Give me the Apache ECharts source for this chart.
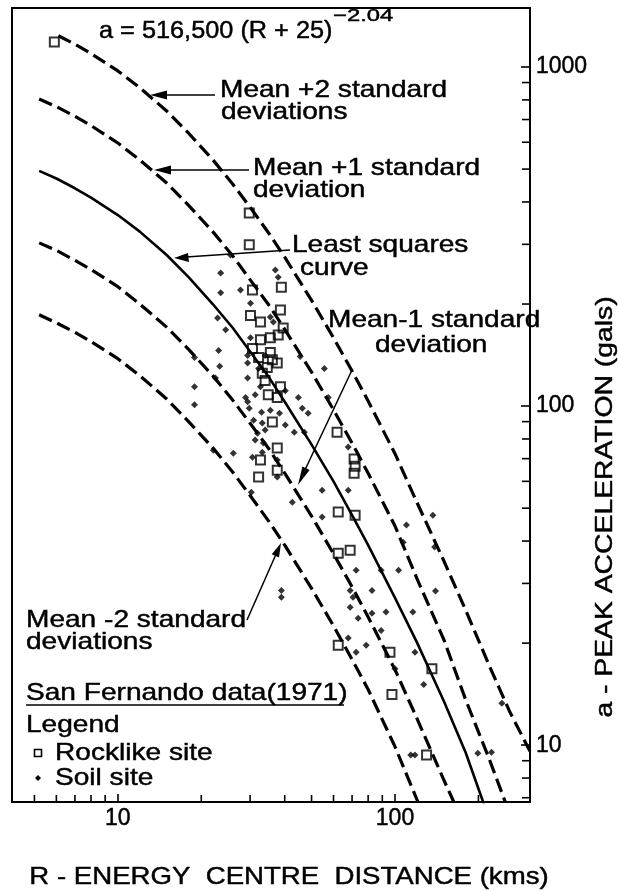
<!DOCTYPE html>
<html><head><meta charset="utf-8">
<script src="https://cdn.jsdelivr.net/npm/echarts@6/dist/echarts.min.js"></script>
<style>html,body{margin:0;padding:0;background:#fff}#c{width:619px;height:891px}</style>
</head><body><div id="c"></div>
<script>
// ---- axis ranges / ticks ----
const xRange = [4.15, 307];
const yRange = [6.8, 1493];
const xMinorTicks = [5, 6, 7, 8, 9, 20, 30, 40, 50, 60, 70, 80, 90, 200];
const yMinorTicks = [7, 8, 9, 20, 30, 40, 50, 60, 70, 80, 90, 200, 300, 400, 500, 600, 700, 800, 900];

// ---- curves: [R (km), a (gals)] ----
const plus2Curve = [[6.1,1237],[7,1168],[8,1096],[10,974],[12,869],[15,742],[18,638],[22,533],[26,451],[30,386],[35,324],[40,275],[50,205],[60,159],[70,127],[80,103.5],[100,72.4],[120,52],[150,35],[180,25],[220,17],[260,12.5],[307,9.6]];
const plus1Curve = [[5.2,805],[6,764],[7,716],[8,672],[10,597],[12,532],[15,455],[18,391],[22,327],[26,277],[30,236],[35,199],[40,168.5],[50,126],[60,97.5],[70,77.8],[80,63.4],[100,44.3],[120,31],[150,20.5],[180,13.6],[220,9.0],[250,6.8]];
const meanCurve  = [[5.2,494],[6,469],[7,439],[8,412],[10,366],[12,327],[15,279],[18,240],[22,200],[26,170],[30,145],[35,122],[40,103],[50,77],[60,60],[70,47.7],[80,38.9],[100,27.2],[120,20.1],[150,13.5],[180,9.5],[208,6.8],[220,6.0]];
const minus1Curve = [[5.2,303],[6,288],[7,269],[8,253],[10,225],[12,200],[15,171],[18,147],[22,123],[26,104],[30,89],[35,75],[40,63.4],[50,47.4],[60,36.7],[70,29.3],[80,23.9],[100,16.7],[120,12.0],[150,7.9],[163,6.8]];
const minus2Curve = [[5.2,186],[6,176],[7,165],[8,155],[10,138],[12,123],[15,105],[18,90],[22,75.4],[26,63.8],[30,54.5],[35,45.8],[40,38.9],[50,29.0],[60,22.5],[70,17.9],[80,14.6],[100,9.9],[121,6.8]];

// ---- observations ----
const rockSites = [[5.9,1185],[29.8,371],[29.8,299],[30.6,220],[38.9,224],[30.1,185],[32.7,177],[38.6,192],[39.5,170],[37.9,162],[35.5,159],[32.7,157],[30.6,148],[35.5,144],[32.2,139],[36.1,137],[37.6,134],[34.6,130],[33.2,125],[34.0,119],[38.6,114],[34.9,108],[37.6,106],[36.1,89.8],[37.6,75.2],[32.7,69.3],[32.2,61.8],[37.6,64.7],[62.4,48.7],[71.8,47.7],[62.4,36.8],[68.9,37.6],[62.4,19.7],[95.9,18.8],[135.9,16.8],[97.5,14.1],[130,9.35],[61.8,83.8],[71.2,69.8],[71.8,66.5],[71.2,63.4]];
const soilSites = [[25.5,279],[23.5,247],[37.0,252],[37.9,240],[23.5,216],[27.7,220],[30.1,201],[22.9,182],[35.5,183],[36.4,177],[24.5,168],[30.1,159],[23.1,146],[29.4,141],[18.9,139],[23.3,131],[29.4,134],[22.5,121],[29.4,121],[18.9,114],[18.9,101],[28.9,106],[29.4,103],[29.8,98.6],[32.7,114],[33.0,95.9],[30.9,90.9],[33.2,89.1],[31.9,83.2],[33.5,77.8],[30.6,70.7],[37.6,69.3],[40.2,87.9],[44.8,106],[46.3,98.6],[48.6,95.3],[43.3,83.8],[47.1,83.8],[40.2,111],[38.3,95.3],[57.4,106],[45.5,140],[55.6,129],[67.8,75.7],[67.8,56.5],[54.6,56.5],[42.6,52.1],[54.6,47.1],[137,47.7],[110,44.6],[107,39.7],[139,38.4],[30.3,55.7],[37.6,61.8],[22.1,74.1],[26.1,72.6],[38.9,28.6],[38.9,27.3],[72.4,32.8],[89.1,32.8],[103,32.8],[68.9,28.6],[70.6,27.3],[82.6,28.6],[68.9,25.5],[82.6,24.5],[92.8,24.7],[116,24.7],[73.6,23.7],[89.1,21.8],[67.8,20.7],[72.4,18.8],[78.7,19.7],[118,18.8],[100,16.8],[127,15.1],[114,9.35],[118,9.35],[199,9.47],[223,9.53],[140,28.5],[243,13.3],[32.2,129],[34.0,141],[31.3,108],[35.5,97.3],[34.0,85.0],[31.3,79.4],[33.2,73.1]];

const FONT = '"Liberation Sans", Arial, sans-serif';
const SX = 1.17;

function curve(name, data, dashed, width) {
  return {
    name, type: 'line', data, showSymbol: false, smooth: false,
    silent: true, z: 2,
    lineStyle: { color: '#000', width: width, type: dashed ? [14, 6] : 'solid', cap: 'butt', join: 'round' }
  };
}
function tickSeries(vals, horizontalAxis) {
  return {
    type: 'custom', silent: true, clip: false, z: 5,
    data: vals.map(v => [v]),
    renderItem: (p, api) => {
      const v = api.value(0);
      if (horizontalAxis) {
        const pt = api.coord([v, yRange[0]]);
        return { type: 'line', shape: { x1: pt[0], y1: pt[1], x2: pt[0], y2: pt[1] - 7 }, style: { stroke: '#000', lineWidth: 1.6 } };
      }
      const pt = api.coord([xRange[1], v]);
      return { type: 'line', shape: { x1: pt[0], y1: pt[1], x2: pt[0] - 8, y2: pt[1] }, style: { stroke: '#000', lineWidth: 1.6 } };
    }
  };
}
function tstyle(text, size, align) {
  return { text, font: size + 'px ' + FONT, fill: '#000', stroke: '#000', lineWidth: 0.45,
    textAlign: align || 'left', textVerticalAlign: 'middle', verticalAlign: 'middle' };
}
function txt(text, x, y, size, extra) {
  return Object.assign({ type: 'text', x, y, scaleX: SX, z: 20, style: tstyle(text, size) }, extra || {});
}
function line(x1, y1, x2, y2, w) {
  return { type: 'line', z: 20, shape: { x1, y1, x2, y2 }, style: { stroke: '#000', lineWidth: w || 1.5 } };
}
function arrow(pts) {
  return { type: 'polygon', z: 20, shape: { points: pts }, style: { fill: '#000' } };
}
const powLabel = v => {
  const l = Math.log10(v);
  return Math.abs(l - Math.round(l)) < 1e-6 ? String(Math.round(v)) : '';
};

const chart = echarts.init(document.getElementById('c'));
chart.setOption({
  animation: false,
  backgroundColor: '#fff',
  grid: { left: 12, right: 89, top: 8, bottom: 89, show: true, borderColor: '#000', borderWidth: 2, backgroundColor: 'transparent' },
  xAxis: {
    type: 'log', logBase: 10, min: xRange[0], max: xRange[1],
    axisLine: { show: true, lineStyle: { color: '#000', width: 2 } },
    axisTick: { show: true, inside: true, length: 8, lineStyle: { color: '#000', width: 1.6 } },
    axisLabel: { color: '#000', fontSize: 23, fontFamily: FONT, margin: 5, formatter: powLabel, textBorderColor: '#000', textBorderWidth: 0.45 },
    splitLine: { show: false }
  },
  yAxis: {
    type: 'log', logBase: 10, min: yRange[0], max: yRange[1], position: 'right',
    axisLine: { show: true, lineStyle: { color: '#000', width: 2 } },
    axisTick: { show: true, inside: true, length: 9, lineStyle: { color: '#000', width: 1.6 } },
    axisLabel: { color: '#000', fontSize: 23, fontFamily: FONT, margin: 6, formatter: powLabel, textBorderColor: '#000', textBorderWidth: 0.45 },
    splitLine: { show: false }
  },
  series: [
    curve('Mean +2 standard deviations', plus2Curve, true, 3.2),
    curve('Mean +1 standard deviation', plus1Curve, true, 3.2),
    curve('Least squares curve', meanCurve, false, 2.6),
    curve('Mean -1 standard deviation', minus1Curve, true, 3.2),
    curve('Mean -2 standard deviations', minus2Curve, true, 3.2),
    { name: 'Rocklike site', type: 'scatter', data: rockSites, symbol: 'rect', symbolSize: 9, z: 4,
      itemStyle: { color: 'rgba(255,255,255,0)', borderColor: '#000', borderWidth: 2 } },
    { name: 'Soil site', type: 'scatter', data: soilSites, symbol: 'diamond', symbolSize: 7, z: 4,
      itemStyle: { color: '#000' } },
    tickSeries(xMinorTicks, true),
    tickSeries(yMinorTicks, false)
  ],
  graphic: [
    txt('a = 516,500 (R + 25)', 99, 32, 23, { scaleX: 1.1 }),
    txt('\u22122.04', 333, 16, 17, { scaleX: 1.4 }),
    txt('Mean +2 standard', 220, 90, 24),
    txt('deviations', 221, 112, 24),
    line(164, 95, 215, 95), arrow([[150, 95], [167, 90.5], [167, 99.5]]),
    txt('Mean +1 standard', 253, 168, 24),
    txt('deviation', 253, 190, 24),
    line(168, 170, 249, 170), arrow([[154, 170], [171, 165.5], [171, 174.5]]),
    txt('Least squares', 292, 245, 24),
    txt('curve', 300, 268, 24),
    line(186, 257, 290, 250), arrow([[174, 258], [188, 253], [189, 262]]),
    txt('Mean-1 standard', 328, 320, 24),
    txt('deviation', 375, 345, 24),
    line(352, 370, 304, 472), arrow([[298, 485], [309.6, 470], [302.4, 466.6]]),
    txt('Mean -2 standard', 26, 620, 24),
    txt('deviations', 26, 642, 24),
    line(247, 620, 277, 552), arrow([[281, 543], [279, 557.4], [271.7, 554.2]]),
    txt('San Fernando data(1971)', 26, 693, 24),
    line(26, 705, 344, 705, 1.6),
    txt('Legend', 26, 725, 24),
    { type: 'rect', z: 20, shape: { x: 34.5, y: 749.5, width: 7, height: 7 }, style: { fill: 'none', stroke: '#000', lineWidth: 1.6 } },
    txt('Rocklike site', 55, 753, 24),
    { type: 'polygon', z: 20, shape: { points: [[38, 775], [41, 778], [38, 781], [35, 778]] }, style: { fill: '#000' } },
    txt('Soil site', 55, 778, 24),
    { type: 'text', x: 289, y: 877, scaleX: 1.15, z: 20, style: tstyle('R - ENERGY  CENTRE  DISTANCE (kms)', 24, 'center') },
    { type: 'text', x: 605, y: 507, rotation: Math.PI / 2, scaleX: 1.18, z: 20, style: tstyle('a - PEAK ACCELERATION (gals)', 24, 'center') }
  ]
});
</script></body></html>
